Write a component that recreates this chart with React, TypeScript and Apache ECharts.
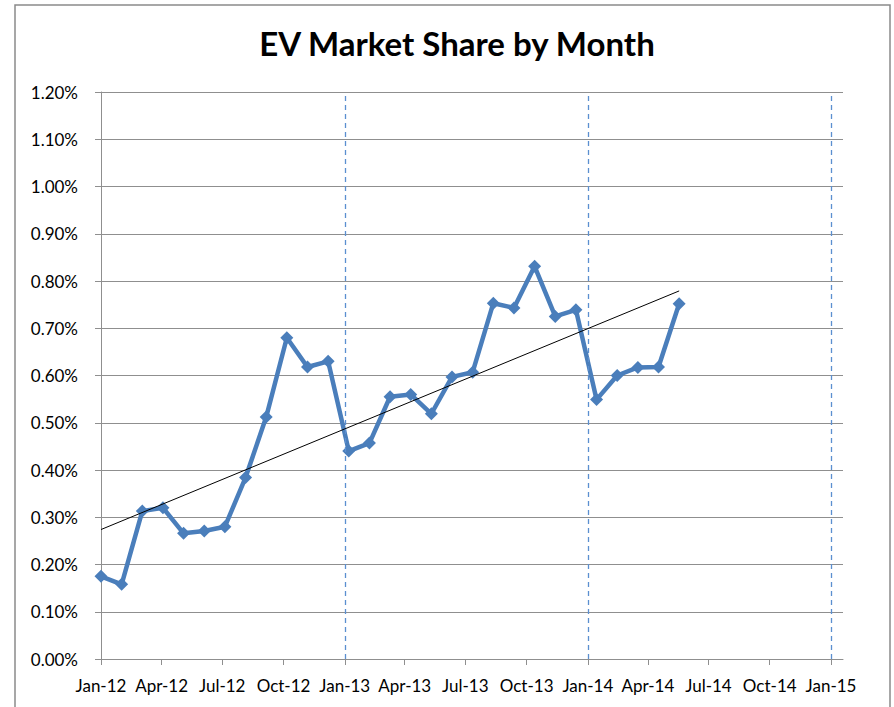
import React, { useEffect, useRef } from "react";
import * as echarts from "echarts";

const pointDates = [
  "2012-01-01", "2012-02-01", "2012-03-03", "2012-04-03", "2012-05-04", "2012-06-04",
  "2012-07-05", "2012-08-05", "2012-09-05", "2012-10-06", "2012-11-06", "2012-12-07",
  "2013-01-07", "2013-02-07", "2013-03-10", "2013-04-10", "2013-05-11", "2013-06-11",
  "2013-07-12", "2013-08-12", "2013-09-12", "2013-10-13", "2013-11-13", "2013-12-14",
  "2014-01-14", "2014-02-14", "2014-03-17", "2014-04-17", "2014-05-18",
];

const marketShare = [
  0.175, 0.158, 0.313, 0.320, 0.266, 0.271,
  0.280, 0.384, 0.512, 0.680, 0.618, 0.630,
  0.440, 0.457, 0.555, 0.560, 0.519, 0.597,
  0.607, 0.753, 0.743, 0.831, 0.725, 0.739,
  0.549, 0.600, 0.617, 0.618, 0.752,
];

const trendDates = ["2012-01-01", "2014-05-18"];
const trendValues = [0.274, 0.779];

const tickDates = [
  "2012-01-01", "2012-04-01", "2012-07-01", "2012-10-01",
  "2013-01-01", "2013-04-01", "2013-07-01", "2013-10-01",
  "2014-01-01", "2014-04-01", "2014-07-01", "2014-10-01",
  "2015-01-01",
];

const yearLineDates = ["2013-01-01", "2014-01-01", "2015-01-01"];

const xMinDate = "2012-01-01";
const xMaxDate = "2015-01-19";

const MONTHS = ["Jan", "Feb", "Mar", "Apr", "May", "Jun", "Jul", "Aug", "Sep", "Oct", "Nov", "Dec"];
const ts = (s: string) => Date.parse(s + "T00:00:00Z");

export default function App() {
  const ref = useRef<HTMLDivElement>(null);
  useEffect(() => {
    if (!ref.current) return;
    const chart = echarts.init(ref.current, null, { renderer: "svg" });
    const font = "Lato, 'Open Sans', sans-serif";
    chart.setOption({
      animation: false,
      backgroundColor: "#ffffff",
      title: {
        text: "EV Market Share by Month",
        left: 452,
        top: 21,
        textAlign: "center",
        textStyle: { fontFamily: font, fontWeight: "bold", fontSize: 33, color: "#000" },
      },
      graphic: [
        {
          type: "rect",
          shape: { x: 15, y: 5, width: 875, height: 720 },
          style: { fill: "none", stroke: "#8a8a8a", lineWidth: 1.5 },
          silent: true,
        },
      ],
      grid: { left: 101, right: 51, top: 92, bottom: 48 },
      xAxis: {
        type: "value",
        min: ts(xMinDate),
        max: ts(xMaxDate),
        axisLine: { show: true, lineStyle: { color: "#8f8f8f", width: 1 } },
        axisTick: {
          show: true,
          length: 6,
          customValues: tickDates.map(ts),
          lineStyle: { color: "#8f8f8f" },
        },
        axisLabel: {
          customValues: tickDates.map(ts),
          margin: 18,
          fontFamily: font,
          fontSize: 17,
          color: "#000",
          formatter: (v: number) => {
            const d = new Date(v);
            return MONTHS[d.getUTCMonth()] + "-" + String(d.getUTCFullYear()).slice(2);
          },
        },
        splitLine: { show: false },
      },
      yAxis: {
        type: "value",
        min: 0,
        max: 1.2,
        interval: 0.1,
        axisLine: { show: true, lineStyle: { color: "#8f8f8f", width: 1 } },
        axisTick: { show: true, length: 6, lineStyle: { color: "#8f8f8f" } },
        axisLabel: {
          margin: 23,
          fontFamily: font,
          fontSize: 17,
          color: "#000",
          formatter: (v: number) => v.toFixed(2) + "%",
        },
        splitLine: { show: true, lineStyle: { color: "#8f8f8f", width: 1 } },
      },
      series: [
        {
          type: "line",
          name: "year lines",
          data: [],
          silent: true,
          markLine: {
            silent: true,
            symbol: ["none", "none"],
            label: { show: false },
            lineStyle: { color: "#5b8fd0", type: [5, 4], width: 1.3 },
            data: yearLineDates.map((d) => ({ xAxis: ts(d) })),
          },
        },
        {
          type: "line",
          name: "EV Market Share",
          data: pointDates.map((d, i) => [ts(d), marketShare[i]]),
          symbol: "diamond",
          symbolSize: 13,
          lineStyle: { color: "#4a7ebb", width: 4.5 },
          itemStyle: { color: "#4a7ebb" },
          z: 3,
        },
        {
          type: "line",
          name: "Trend",
          data: trendDates.map((d, i) => [ts(d), trendValues[i]]),
          symbol: "none",
          lineStyle: { color: "#000", width: 1 },
          z: 4,
        },
      ],
    });
    return () => chart.dispose();
  }, []);
  return (
    <div
      ref={ref}
      style={{ position: "fixed", left: 0, top: 0, width: 894, height: 707 }}
    />
  );
}
